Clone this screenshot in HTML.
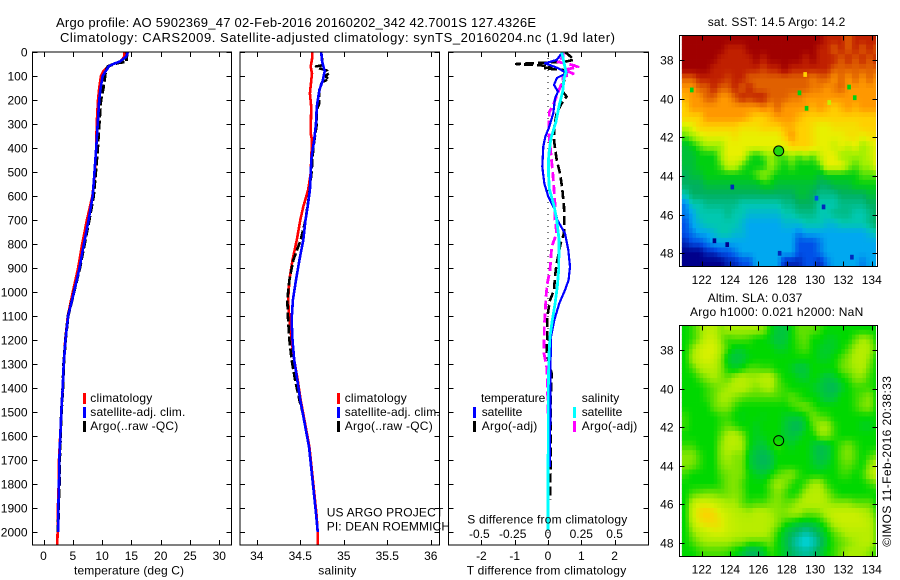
<!DOCTYPE html>
<html lang="en">
<head>
<meta charset="utf-8">
<title>Argo profile</title>
<style>
html,body{margin:0;padding:0;background:#fff;}
svg{display:block;}
text{font-family:"Liberation Sans",sans-serif;font-size:12px;fill:#000;}
text.big{font-size:13px;}
</style>
</head>
<body>
<svg id="chart" xmlns="http://www.w3.org/2000/svg" width="900" height="580" viewBox="0 0 900 580">
  <defs>
    <clipPath id="clip-map1"><rect x="679" y="35" width="197" height="232"/></clipPath>
    <clipPath id="clip-map2"><rect x="679" y="325" width="197" height="232"/></clipPath>
    <clipPath id="clip-p1"><rect x="32.5" y="52" width="199" height="493"/></clipPath>
    <clipPath id="clip-p2"><rect x="240" y="52" width="199.5" height="493"/></clipPath>
    <clipPath id="clip-p3"><rect x="448.5" y="52" width="200" height="493"/></clipPath>
  </defs>
  <g id="layer-map1" clip-path="url(#clip-map1)"></g>
  <g id="layer-map2" clip-path="url(#clip-map2)"></g>
  <g id="layer-p1" clip-path="url(#clip-p1)"></g>
  <g id="layer-p2" clip-path="url(#clip-p2)"></g>
  <g id="layer-p3" clip-path="url(#clip-p3)"></g>
  <g id="layer-axes"></g>

  <text class="big" x="56" y="27" textLength="480">Argo profile: AO 5902369_47 02-Feb-2016 20160202_342 42.7001S 127.4326E</text>
  <text class="big" x="60" y="42" textLength="555">Climatology: CARS2009. Satellite-adjusted climatology: synTS_20160204.nc (1.9d later)</text>

  <text x="74" y="574.5" textLength="110">temperature (deg C)</text>
  <text x="318.3" y="574.5" textLength="38">salinity</text>
  <text x="466.7" y="574.5" textLength="159.5">T difference from climatology</text>
  <text x="467.3" y="523.5" textLength="160">S difference from climatology</text>

  <g>
    <rect x="83" y="393" width="3" height="11" fill="#f00"/>
    <rect x="83" y="407" width="3" height="11" fill="#00f"/>
    <rect x="83" y="421" width="3" height="11" fill="#000"/>
    <text x="90.3" y="402" textLength="62">climatology</text>
    <text x="90.3" y="416" textLength="95">satellite-adj. clim.</text>
    <text x="90.3" y="430" textLength="88">Argo(..raw -QC)</text>
  </g>
  <g>
    <rect x="337" y="393" width="3" height="11" fill="#f00"/>
    <rect x="337" y="407" width="3" height="11" fill="#00f"/>
    <rect x="337" y="421" width="3" height="11" fill="#000"/>
    <text x="344.7" y="402" textLength="62">climatology</text>
    <text x="344.7" y="416" textLength="95">satellite-adj. clim.</text>
    <text x="344.7" y="430" textLength="88">Argo(..raw -QC)</text>
  </g>
  <g>
    <text x="481" y="402" textLength="64.3">temperature</text>
    <text x="581.7" y="402" textLength="37.6">salinity</text>
    <rect x="473" y="407" width="3" height="11" fill="#00f"/>
    <rect x="473" y="421" width="3" height="11" fill="#000"/>
    <rect x="573" y="407" width="3" height="11" fill="#0ff"/>
    <rect x="573" y="421" width="3" height="11" fill="#f0f"/>
    <text x="481.7" y="416" textLength="40.6">satellite</text>
    <text x="481.7" y="430" textLength="55.6">Argo(-adj)</text>
    <text x="581.7" y="416" textLength="40.6">satellite</text>
    <text x="581.7" y="430" textLength="55.6">Argo(-adj)</text>
  </g>

  <text x="326.7" y="516.7" textLength="116.6">US ARGO PROJECT</text>
  <text x="326.7" y="530.7" textLength="123.3">PI: DEAN ROEMMICH</text>

  <text x="707.7" y="26" textLength="137.6">sat. SST: 14.5 Argo: 14.2</text>
  <text x="707.7" y="302" textLength="94.6">Altim. SLA: 0.037</text>
  <text x="690" y="316" textLength="173.3">Argo h1000: 0.021 h2000: NaN</text>
  <text transform="translate(891,546.7) rotate(-90)" x="0" y="0" textLength="170.7">©IMOS 11-Feb-2016 20:38:33</text>
</svg>
<script>
/* ---------- tick labels ---------- */
var depthTicks = [0,100,200,300,400,500,600,700,800,900,1000,1100,1200,1300,1400,1500,1600,1700,1800,1900,2000];
var tempTicks = [0,5,10,15,20,25,30];
var salTicks = [34,34.5,35,35.5,36];
var salTickLabels = ["34","34.5","35","35.5","36"];
var tDiffTicks = [-2,-1,0,1,2];
var sDiffTicks = [-0.5,-0.25,0,0.25,0.5];
var sDiffTickLabels = ["-0.5","-0.25","0","0.25","0.5"];
var lonTicks = [122,124,126,128,130,132,134];
var latTicks = [38,40,42,44,46,48];

/* ---------- temperature profiles ---------- */
var tempDepth = [0,20,40,50,60,70,80,100,150,200,300,400,500,600,700,800,900,1000,1100,1200,1300,1400,1500,1600,1700,1800,1900,2000];
var climTempDepth = [0,20,40,50,60,70,80,100,150,200,300,400,500,600,700,800,900,1000,1100,1200,1300,1400,1500,1600,1700,1800,1900,2000,2054];
var climTemp = [13.8,13.8,13.05,11.9,11.0,10.6,10.2,9.8,9.5,9.3,9.07,9.0,8.8,8.35,7.4,6.6,5.9,5.0,4.15,3.7,3.45,3.27,3.05,2.85,2.65,2.6,2.45,2.4,2.36];
var satTemp = [14.4,14.1,13.0,11.9,11.1,10.9,10.6,10.1,9.75,9.5,9.25,9.0,8.7,8.4,7.7,6.9,6.15,5.2,4.2,3.75,3.45,3.27,3.04,2.87,2.7,2.65,2.53,2.5];
var argoTempDepth = [0,20,40,45,50,60,70,80,100,150,200,300,400,500,600,700,800,900,1000,1100,1200,1300,1400,1500,1600,1700,1800,1900,2000];
var argoTemp = [14.3,14.2,14.2,12.8,12.0,11.0,10.8,10.6,10.5,10.2,9.8,9.5,9.25,8.9,8.55,7.8,7.0,6.2,5.2,4.2,3.75,3.45,3.3,3.05,2.9,2.75,2.7,2.55,2.5];

/* ---------- salinity profiles ---------- */
var climSalDepth = [0,30,61,90,172,228,339,367,506,575,644,700,783,867,950,1033,1117,1200,1283,1367,1450,1508,1645,1783,1922,2000,2054];
var climSal = [34.64,34.635,34.62,34.635,34.61,34.625,34.62,34.635,34.62,34.59,34.535,34.5,34.46,34.41,34.375,34.36,34.375,34.4,34.43,34.47,34.505,34.535,34.605,34.645,34.685,34.7,34.7];
var satSalDepth = [0,40,80,117,158,228,297,367,436,506,575,644,700,783,867,950,1033,1117,1200,1283,1367,1450,1508,1645,1783,1922,2000];
var satSal = [34.74,34.75,34.78,34.76,34.72,34.69,34.68,34.66,34.63,34.62,34.61,34.585,34.56,34.535,34.49,34.45,34.415,34.40,34.41,34.43,34.465,34.5,34.53,34.6,34.64,34.68,34.70];
var argoSalDepth = [0,30,55,60,68,78,90,100,113,125,135,160,214,240,300,400,500,600,700,783,867,950,1033,1117,1200,1283,1367,1450,1508,1645,1783,1922,2000];
var argoSal = [34.74,34.75,34.76,34.68,34.72,34.81,34.83,34.78,34.83,34.75,34.74,34.72,34.72,34.69,34.69,34.65,34.63,34.6,34.56,34.505,34.42,34.375,34.35,34.36,34.375,34.4,34.44,34.49,34.53,34.6,34.64,34.68,34.7];

/* ---------- temperature difference from climatology ---------- */
var satTDiffDepth = [0,33,47,67,88,108,137,165,193,255,311,353,394,478,547,603,658,700,756,825,894,950,992,1047,1117,1186,1256,1400,1729];
var satTDiff = [0.44,0.26,-0.09,0.3,0.56,0.27,0.18,0.3,0.21,0.16,0.04,-0.08,-0.14,-0.17,-0.11,0.01,0.21,0.28,0.51,0.61,0.66,0.62,0.51,0.34,0.19,0.09,0.08,0.07,0.06];
var argoTDiffDepth = [0,16,32,41,50,56,62,68,75,96,130,158,186,214,255,311,367,450,505,561,644,700,756,797,880,936,992,1034,1103,1172,1256,1340,1396,1867];
var argoTDiff = [0.51,0.65,0.78,0.5,-0.96,-0.2,0.1,-0.12,0.45,0.56,0.45,0.4,0.56,0.41,0.26,0.19,0.18,0.26,0.36,0.42,0.48,0.49,0.48,0.38,0.26,0.21,0.18,0.06,-0.02,-0.02,-0.04,0.11,0.09,0.07];

/* ---------- salinity difference from climatology ---------- */
var satSDiffDepth = [0,83,110,165,220,290,360,430,500,570,640,700,783,908,978,1047,1117,1186,1256,1396,1992];
var satSDiff = [0.103,0.135,0.12,0.11,0.085,0.06,0.022,0.005,0.003,0.01,0.045,0.065,0.083,0.08,0.07,0.053,0.032,0.015,0.0075,0.002,0.0];
var argoSDiffDepth = [0,20,40,55,62,75,90,104,125,140,220,250,330,500,570,640,700,756,811,908,964,1020,1075,1145,1256,1312,1367,1729];
var argoSDiff = [0.11,0.115,0.065,0.19,0.225,0.12,0.19,0.11,0.113,0.095,0.04,0.01,0.005,0.035,0.045,0.053,0.053,0.065,0.028,0.015,-0.005,-0.015,-0.02,-0.028,-0.03,-0.01,-0.005,0.01];

/* ---------- map grids: 0.5 degree rows from north to south ---------- */
var sstRow00 = [21,21,21,21,21,21,21,21,21,21,21,21,21,21,21,21,21,21,21,21,20,20,20,19,20,20,20,20];
var sstRow01 = [21,21,21,21,21,21,20,20,20,21,21,21,21,21,21,21,21,21,21,20,20,19,20,19,20,19,20,19];
var sstRow02 = [21,21,21,21,21,20,20,20,20,20,21,20,21,21,21,21,21,20,21,20,20,20,19,20,19,20,19,20];
var sstRow03 = [21,21,21,21,20,20,20,20,20,20,20,19.5,20,20,21,20,20,20,20,20,20,19,19,19,19,19,19,19];
var sstRow04 = [19,19,20,20,20,20,19.5,20,20,19,19,19,19,19,19,19,19,19,18.5,19,19,18,19,18,19,18,19,18];
var sstRow05 = [18,18,19,19,20,19,19,20,19,20,19,19,19,19,19,19,19,19,18.5,18.5,18,18.5,19,18,18,18,18,18];
var sstRow06 = [17.5,18,18,19,19,18,18,19,20,19.5,20,20,19,19,19,18.5,18.5,18,18,18,18,18,18,18,18,18,18,18];
var sstRow07 = [17,18,18,18,18,18,18,18,18,18,18,18.5,18,19,18,18,18,18,17.5,18,17.5,17,17.5,18,17.5,18,18,18];
var sstRow08 = [17,17,17,18,18,18,18,18,18,17.5,17,17,17.5,18,18,18,17.5,17,17,17,17,17,17,17,17,17,17,17];
var sstRow09 = [15.5,16,17,17,17,17,17,17,16.5,16.5,16.5,17,17,17,17.5,17.5,17,17,16.5,16,16,16.5,16.5,16.5,16.5,17,17,17];
var sstRow10 = [14.5,15,15.5,16,16,16,16,16.5,16,16,16,16,16,16,17,18,17,17,16.5,16,16,16,16,16.5,16.5,16,16.5,16.5];
var sstRow11 = [13.5,14,14.5,15,15,15,16,16,16,16,16,16,16,16,16,17,17,17,16.5,16,16,15.5,16,15.5,16,15,15.5,16];
var sstRow12 = [13.5,13.5,14,14,14,15,16,16,16,14.5,14,14.5,15,14.5,14.5,15,14.5,15,14.5,15.5,16,16,15,15,15,15,15.5,16];
var sstRow13 = [13.5,13.5,14,14,14,14.5,15.5,15.5,14.5,14,14,14,15,14.5,14,14.5,14,14,14,14.5,16,16,16,15,14.5,15,15,16];
var sstRow14 = [13,13.5,13.5,14,14,14,14,14,14,14,14.5,15,14.5,14,14,14,14,14,14,13.5,14,14,14,14,14,14.5,14.5,14.5];
var sstRow15 = [13,13,13,13.5,13.5,13.5,13.5,13.5,13.5,13.5,13.5,14,14,13.5,13.5,13.5,13.5,13.5,13.5,13,13,13.5,13.5,13.5,14,14,14,14];
var sstRow16 = [12,13,13,13,13,13,13,13,13,13,13,13,13,13,13,13,13.5,13.5,13,12.5,12.5,12.5,13,13,13,13,13.5,13.5];
var sstRow17 = [10.5,12,12,12.5,12.5,12.5,12.5,12.5,12,12,12,12,12,12,12.5,12.5,13,13,13,12,12,12,12.5,12.5,12.5,12.5,13,13];
var sstRow18 = [10.5,11,12,12,12,12,12.5,12,12,11.5,11.5,11.5,11.5,11.5,12,12,12.5,12.5,12.5,12,12,12.5,12.5,12.5,12,12,12.5,13];
var sstRow19 = [10,11,11.5,12,12,12,12,12,11.5,11,11,11,11,11,11.5,11.5,11.5,12,12,12,11.5,11.5,12,12,12,12,12.5,13];
var sstRow20 = [10,10.5,11,11,11.5,12,12,11.5,11.5,11,11,11,11,11,11,11,10.5,11,11,11,11,11,11,11,11,11,11.5,12];
var sstRow21 = [9.5,10,10,10.5,11,11,11,11,11,11,11,11,11,11,11,11,10,10,10,10.5,11,11,11,11,11,11,11,11];
var sstRow22 = [9,9,9,9.5,9.5,10,10,10.5,11,11,11,11,11,11,11,11,10,10,10,10.5,11,11,11,11,11,11,11,11];
var sstRow23 = [9,9,9,9,9,9,9.5,9.5,10,10,11,11,11,11,9.5,9.5,9.5,10,10,9.5,10.5,11,11,11,11,10.5,11,11];
var sstGrid = [sstRow00,sstRow01,sstRow02,sstRow03,sstRow04,sstRow05,sstRow06,sstRow07,sstRow08,sstRow09,sstRow10,sstRow11,sstRow12,sstRow13,sstRow14,sstRow15,sstRow16,sstRow17,sstRow18,sstRow19,sstRow20,sstRow21,sstRow22,sstRow23];
var sstSpotLon = [124.16,121.3,128.9,132.4,132.8,129.4,122.9,123.8,130.1,127.5,132.6,130.6,129.3,131.0];
var sstSpotLat = [44.57,39.55,39.7,39.4,39.95,40.5,47.35,47.55,45.15,48.0,48.2,45.6,38.75,40.2];
var sstSpotVal = [9.5,14,14,14,14,14,9,9,10,9.5,9.5,9.5,17,15.5];

var slaRow00 = [0,2,6,10,10,6,8,8,8,8,8,6,0,-4,-5,0,4,4,4,2,0,0,0,0,0,0,0,0];
var slaRow01 = [0,2,6,12,12,6,2,3,3,2,0,0,-2,-5,-4,0,3,4,0,0,-2,-2,0,0,4,8,6,0];
var slaRow02 = [0,6,12,14,14,8,2,-2,-2,0,0,0,0,-2,-2,0,2,3,0,-2,-3,-2,0,3,8,10,8,2];
var slaRow03 = [0,8,12,14,12,6,-2,-5,-4,-1,0,0,0,0,0,0,0,0,0,-2,-2,0,3,6,9,10,6,0];
var slaRow04 = [0,3,8,10,10,6,0,-2,0,3,3,2,2,0,0,-2,-5,-4,0,0,0,0,4,6,8,9,4,0];
var slaRow05 = [0,0,3,6,8,6,4,8,10,8,8,10,10,4,0,0,-2,-3,0,-2,-5,-3,0,2,6,6,2,0];
var slaRow06 = [0,0,0,2,4,6,8,10,10,8,6,8,9,4,2,0,0,0,-2,-4,-7,-8,-3,0,2,2,2,0];
var slaRow07 = [0,0,0,2,4,8,8,6,4,3,3,3,3,3,2,4,2,0,0,-2,-5,-4,0,0,2,4,6,0];
var slaRow08 = [0,0,0,0,4,6,6,2,0,0,0,0,0,0,0,2,4,5,2,0,0,0,0,0,2,5,6,0];
var slaRow09 = [2,0,0,0,0,2,2,0,-1,0,0,-1,0,0,-2,-3,-3,0,5,3,2,0,0,0,0,0,0,0];
var slaRow10 = [2,0,0,0,0,2,4,2,0,0,-2,0,0,0,-3,-7,-8,-2,3,8,8,2,0,0,0,-2,-2,0];
var slaRow11 = [0,0,0,0,0,4,9,10,6,0,-2,-1,0,0,-3,-5,-3,0,0,6,6,2,0,0,0,0,0,0];
var slaRow12 = [2,2,0,0,0,6,10,10,8,0,-3,-4,0,2,0,-2,0,0,-3,-6,-4,0,3,5,2,0,0,0];
var slaRow13 = [6,6,2,0,0,6,8,6,6,-2,-6,-8,-5,0,0,0,0,0,-3,-7,-5,0,4,6,3,0,2,4];
var slaRow14 = [6,5,2,0,0,5,7,6,5,-2,-6,-8,-6,0,0,0,0,0,-2,-4,-2,0,3,4,2,0,6,10];
var slaRow15 = [2,0,0,0,0,3,5,6,5,0,-2,-3,0,3,5,6,2,0,0,0,0,0,2,2,0,2,8,12];
var slaRow16 = [0,0,0,0,0,2,5,6,3,0,0,0,4,8,6,2,0,3,8,8,2,0,0,0,0,0,2,4];
var slaRow17 = [0,3,4,5,5,4,5,6,4,0,0,0,3,6,3,0,2,8,10,10,6,2,0,0,0,0,0,0];
var slaRow18 = [0,10,14,14,12,10,8,8,4,2,3,3,5,6,4,5,8,10,10,10,8,6,6,6,4,4,4,0];
var slaRow19 = [0,12,18,20,18,14,12,10,9,8,10,10,8,6,6,8,8,5,5,6,10,12,12,12,12,10,8,2];
var slaRow20 = [0,10,16,18,18,16,12,11,10,10,10,10,9,6,2,0,-2,-3,-2,0,4,10,12,12,12,12,10,4];
var slaRow21 = [0,6,10,12,14,14,12,11,10,10,10,10,7,2,-3,-7,-11,-16,-11,-5,0,4,7,10,10,10,10,4];
var slaRow22 = [0,3,6,8,8,8,8,6,6,4,4,4,5,0,-4,-12,-20,-26,-20,-10,-2,2,4,6,8,10,10,4];
var slaRow23 = [0,0,2,3,3,3,2,0,-3,-8,-8,-3,2,0,-3,-9,-13,-16,-12,-5,0,2,5,8,8,8,6,2];
var slaGrid = [slaRow00,slaRow01,slaRow02,slaRow03,slaRow04,slaRow05,slaRow06,slaRow07,slaRow08,slaRow09,slaRow10,slaRow11,slaRow12,slaRow13,slaRow14,slaRow15,slaRow16,slaRow17,slaRow18,slaRow19,slaRow20,slaRow21,slaRow22,slaRow23];

var floatLon = [127.4326];
var floatLat = [42.7001];
var floatSst = [14.2];

/* ---------- colour ramps ---------- */
var sstLevels = [9,10,11,12,13,14,15,16,17,18,19,20,21];
var sstColors = ["#00008c","#0050e8","#00a8f0","#00c8b0","#00b060","#00d010","#a0f000","#e8f000","#ffd000","#ff9800","#e06000","#c02000","#a00000"];
var slaLevels = [-26,-16,-8,-3,0,4,8,14,20];
var slaColors = ["#00d8e8","#00c0a0","#00b858","#00cc30","#00d800","#60e000","#a8ec00","#d8f000","#ffd000"];

/* ---------- axis functions ---------- */
function yDepth(d){return 52+d*0.24;}
function xTemp(t){return 43.5+t*5.86;}
function xSal(s){return 300.3+(s-34.5)*87;}
function xTDiff(t){return 548+t*33.3;}
function xSDiff(s){return 548+s*133.2;}
function xLon(l){return 701.7+(l-122)*14.17;}
function yLat1(l){return 60+(l-38)*19.33;}
function yLat2(l){return 350+(l-38)*19.27;}

var NS = "http://www.w3.org/2000/svg";
function mk(tag,parent,attrs){
  var e = document.createElementNS(NS,tag);
  for(var k in attrs){e.setAttribute(k,attrs[k]);}
  parent.appendChild(e);
  return e;
}
function hexRgb(h){return [parseInt(h.substr(1,2),16),parseInt(h.substr(3,2),16),parseInt(h.substr(5,2),16)];}
function ramp(v,levels,colors){
  if(v<=levels[0]){return colors[0];}
  for(var i=1;i<levels.length;i++){
    if(v<=levels[i]){
      var f=(v-levels[i-1])/(levels[i]-levels[i-1]);
      var a=hexRgb(colors[i-1]),b=hexRgb(colors[i]);
      return "rgb("+Math.round(a[0]+(b[0]-a[0])*f)+","+Math.round(a[1]+(b[1]-a[1])*f)+","+Math.round(a[2]+(b[2]-a[2])*f)+")";
    }
  }
  return colors[colors.length-1];
}

function drawLine(layer,xs,ds,xFn,color,width,dash,name){
  var pts=[];
  for(var i=0;i<xs.length;i++){pts.push(xFn(xs[i]).toFixed(1)+","+yDepth(ds[i]).toFixed(1));}
  var a={points:pts.join(" "),fill:"none",stroke:color,"stroke-width":width,"shape-rendering":"crispEdges","stroke-linejoin":"round"};
  if(dash){a["stroke-dasharray"]=dash;}
  var p=mk("polyline",layer,a);
  
  
}

var p1=document.getElementById("layer-p1");
drawLine(p1,climTemp,climTempDepth,xTemp,"#f00",2.6,null,"climatology-temperature-line");
drawLine(p1,argoTemp,argoTempDepth,xTemp,"#000",3,"9 3","argo-temperature-line");
drawLine(p1,satTemp,tempDepth,xTemp,"#00f",2.6,null,"satellite-temperature-line");

var p2=document.getElementById("layer-p2");
drawLine(p2,climSal,climSalDepth,xSal,"#f00",2.6,null,"climatology-salinity-line");
drawLine(p2,argoSal,argoSalDepth,xSal,"#000",2.6,"9 3","argo-salinity-line");
drawLine(p2,satSal,satSalDepth,xSal,"#00f",2.6,null,"satellite-salinity-line");

var p3=document.getElementById("layer-p3");
var zeroLine=mk("line",p3,{x1:xTDiff(0),x2:xTDiff(0),y1:52,y2:545,stroke:"#000","stroke-width":1,"stroke-dasharray":"1 5"});


drawLine(p3,argoTDiff,argoTDiffDepth,xTDiff,"#000",2.6,"9 4","argo-t-difference-line");
drawLine(p3,argoSDiff,argoSDiffDepth,xSDiff,"#f0f",2.8,"9 4","argo-s-difference-line");
drawLine(p3,satTDiff,satTDiffDepth,xTDiff,"#00f",2.2,null,"satellite-t-difference-line");
drawLine(p3,satSDiff,satSDiffDepth,xSDiff,"#0ff",2.8,null,"satellite-s-difference-line");

/* ---------- maps ---------- */
var gridLon0=120.6, gridLat0=36.7, gridStep=0.5;
function gridAt(grid,rf,cf){
  var rows=grid.length, cols=grid[0].length;
  var r0=Math.max(0,Math.min(rows-1,Math.floor(rf))), r1=Math.min(rows-1,r0+1);
  var c0=Math.max(0,Math.min(cols-1,Math.floor(cf))), c1=Math.min(cols-1,c0+1);
  var fr=Math.max(0,Math.min(1,rf-r0)), fc=Math.max(0,Math.min(1,cf-c0));
  return (grid[r0][c0]*(1-fc)+grid[r0][c1]*fc)*(1-fr)+(grid[r1][c0]*(1-fc)+grid[r1][c1]*fc)*fr;
}
var m1=document.getElementById("layer-map1");
for(var r=0;r<sstGrid.length*2;r++){
  for(var c=0;c<sstGrid[0].length*2;c++){
    var cell=mk("rect",m1,{x:xLon(gridLon0+c*gridStep/2).toFixed(2),y:yLat1(gridLat0+r*gridStep/2).toFixed(2),width:(gridStep/2*14.17+0.4).toFixed(2),height:(gridStep/2*19.33+0.4).toFixed(2),fill:ramp(gridAt(sstGrid,(r-0.5)/2,(c-0.5)/2),sstLevels,sstColors)});
    
    
  }
}
for(var s=0;s<sstSpotVal.length;s++){
  var spot=mk("rect",m1,{x:(xLon(sstSpotLon[s])-1.8).toFixed(2),y:(yLat1(sstSpotLat[s])-2.4).toFixed(2),width:3.6,height:4.8,fill:ramp(sstSpotVal[s],sstLevels,sstColors)});
  
  
}
var m2=document.getElementById("layer-map2");
for(var r2=0;r2<slaGrid.length*2;r2++){
  for(var c2=0;c2<slaGrid[0].length*2;c2++){
    var slaCell=mk("rect",m2,{x:xLon(gridLon0+c2*gridStep/2).toFixed(2),y:yLat2(gridLat0+r2*gridStep/2).toFixed(2),width:(gridStep/2*14.17+0.4).toFixed(2),height:(gridStep/2*19.27+0.4).toFixed(2),fill:ramp(gridAt(slaGrid,(r2-0.5)/2,(c2-0.5)/2),slaLevels,slaColors)});
    
    
  }
}

/* ---------- axes ---------- */
var ax=document.getElementById("layer-axes");
function tickLine(x1,y1,x2,y2,name){
  var t=mk("line",ax,{x1:x1,y1:y1,x2:x2,y2:y2,stroke:"#000","stroke-width":1,"shape-rendering":"crispEdges"});
  
  
}
function label(x,y,str,anchor,name){
  var t=mk("text",ax,{x:x,y:y,"text-anchor":anchor});
  t.textContent=str;
  
  
}
function frame(x0,y0,x1,y1,name){
  var b=mk("rect",ax,{x:x0,y:y0,width:x1-x0,height:y1-y0,fill:"none",stroke:"#000","stroke-width":1,"shape-rendering":"crispEdges"});
  
  
}
var panelLeft=[32.5,240,448.5], panelRight=[231.5,439.5,648.5], panelTop=52, panelBottom=545;
var panelNames=["temperature","salinity","difference"];
for(var p=0;p<3;p++){
  frame(panelLeft[p],panelTop,panelRight[p],panelBottom,panelNames[p]+"-axes-frame");
  for(var i=0;i<depthTicks.length;i++){
    var yy=Math.round(yDepth(depthTicks[i]))+0.5;
    tickLine(panelLeft[p],yy,panelLeft[p]+5,yy,"depth-tick");
    tickLine(panelRight[p],yy,panelRight[p]-5,yy,"depth-tick");
    if(p===0){label(27.5,yy+4,String(depthTicks[i]),"end","depth-tick-label");}
  }
}
for(var i1=0;i1<tempTicks.length;i1++){
  var x1=Math.round(xTemp(tempTicks[i1]))+0.5;
  tickLine(x1,panelTop,x1,panelTop+5,"temperature-tick");
  tickLine(x1,panelBottom,x1,panelBottom-5,"temperature-tick");
  label(xTemp(tempTicks[i1]),560,String(tempTicks[i1]),"middle","temperature-tick-label");
}
for(var i2=0;i2<salTicks.length;i2++){
  var x2=Math.round(xSal(salTicks[i2]))+0.5;
  tickLine(x2,panelTop,x2,panelTop+5,"salinity-tick");
  tickLine(x2,panelBottom,x2,panelBottom-5,"salinity-tick");
  label(xSal(salTicks[i2]),560,salTickLabels[i2],"middle","salinity-tick-label");
}
for(var i3=0;i3<tDiffTicks.length;i3++){
  var x3=Math.round(xTDiff(tDiffTicks[i3]))+0.5;
  tickLine(x3,panelTop,x3,panelTop+5,"t-difference-tick");
  tickLine(x3,panelBottom,x3,panelBottom-5,"t-difference-tick");
  label(xTDiff(tDiffTicks[i3]),560,String(tDiffTicks[i3]),"middle","t-difference-tick-label");
}
for(var i4=0;i4<sDiffTicks.length;i4++){
  label(xSDiff(sDiffTicks[i4])-(i4<2?2:0),538,sDiffTickLabels[i4],"middle","s-difference-tick-label");
}
var mapLeft=679.5, mapRight=877.5;
function mapAxes(top,bottom,yFn,labelY,name){
  frame(mapLeft,top,mapRight,bottom,name+"-frame");
  for(var a=0;a<lonTicks.length;a++){
    var lx=Math.round(xLon(lonTicks[a]))+0.5;
    tickLine(lx,top,lx,top+5,name+"-lon-tick");
    tickLine(lx,bottom,lx,bottom-5,name+"-lon-tick");
    label(xLon(lonTicks[a]),labelY,String(lonTicks[a]),"middle",name+"-lon-label");
  }
  for(var b=0;b<latTicks.length;b++){
    var ly=Math.round(yFn(latTicks[b]))+0.5;
    tickLine(mapLeft,ly,mapLeft+5,ly,name+"-lat-tick");
    tickLine(mapRight,ly,mapRight-5,ly,name+"-lat-tick");
    label(673.5,ly+4,String(latTicks[b]),"end",name+"-lat-label");
  }
}
mapAxes(35.5,266.5,yLat1,284,"sst-map");
mapAxes(325.5,556.5,yLat2,573.5,"sla-map");
var mk1=mk("circle",ax,{cx:xLon(floatLon[0]).toFixed(1),cy:yLat1(floatLat[0]).toFixed(1),r:5,fill:ramp(floatSst[0],sstLevels,sstColors),stroke:"#000","stroke-width":1});


var mk2=mk("circle",ax,{cx:xLon(floatLon[0]).toFixed(1),cy:yLat2(floatLat[0]).toFixed(1),r:5,fill:"none",stroke:"#000","stroke-width":1});


</script>
</body>
</html>
